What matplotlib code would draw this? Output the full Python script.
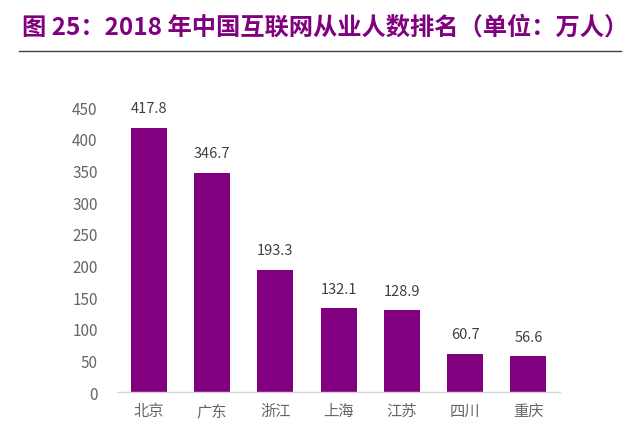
import matplotlib
matplotlib.use('Agg')
import matplotlib.pyplot as plt

plt.rcParams['font.family'] = ['Noto Sans CJK SC', 'DejaVu Sans']

# data (unit: 万人)
provinces = ['北京', '广东', '浙江', '上海', '江苏', '四川', '重庆']
workers = [417.8, 346.7, 193.3, 132.1, 128.9, 60.7, 56.6]
y_ticks = [0, 50, 100, 150, 200, 250, 300, 350, 400, 450]

purple = '#800080'
grey_text = '#666666'

fig = plt.figure(figsize=(6.4, 4.31), dpi=100)
ax = fig.add_axes([0.183, 0.088, 0.692, 0.661])

bars = ax.bar(range(len(provinces)), workers, width=0.57, color=purple)

# value labels above each bar
for rect, val in zip(bars, workers):
    ax.annotate(f'{val:.1f}', (rect.get_x() + rect.get_width() / 2, val),
                xytext=(0, 9), textcoords='offset points',
                ha='center', va='bottom', fontsize=10.5, color='#404040')

ax.set_xlim(-0.5, len(provinces) - 0.5)
ax.set_ylim(0, 450)
ax.set_yticks(y_ticks)
ax.set_xticks(range(len(provinces)))
ax.set_xticklabels(provinces)
ax.tick_params(axis='both', length=0, labelsize=11, colors=grey_text)
ax.tick_params(axis='x', pad=7)
ax.tick_params(axis='y', pad=14)

for side in ['top', 'right', 'left']:
    ax.spines[side].set_visible(False)
ax.spines['bottom'].set_color('#d9d9d9')
ax.spines['bottom'].set_linewidth(1)

# title and the rule beneath it
fig.text(0.035, 0.937, '图 25：2018 年中国互联网从业人数排名（单位：万人）',
         fontsize=17.5, fontweight='bold', color=purple, ha='left', va='center')
fig.add_artist(plt.Line2D([0.03, 0.97], [0.879, 0.879], color='#404040', linewidth=1))

fig.savefig('out.png', dpi=100)
